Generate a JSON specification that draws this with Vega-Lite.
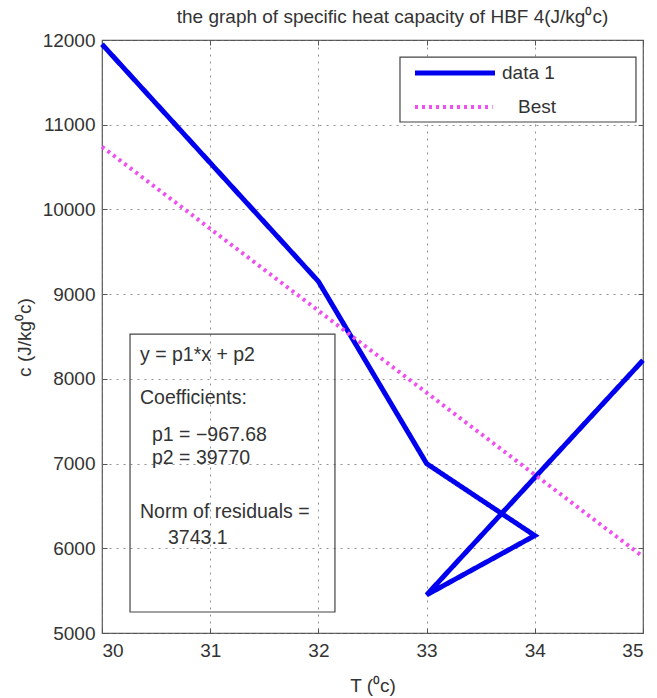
{
  "$schema": "https://vega.github.io/schema/vega-lite/v6.json",
  "width": 541,
  "height": 593,
  "autosize": {"type": "none"},
  "padding": {"left": 102, "top": 40, "right": 14, "bottom": 65},
  "background": "white",
  "config": {
    "font": "Liberation Sans",
    "view": {"stroke": "#555", "strokeWidth": 1.2},
    "axis": {
      "labelFont": "Liberation Sans",
      "titleFont": "Liberation Sans",
      "labelFontSize": 19,
      "titleFontSize": 19,
      "titleFontWeight": "normal",
      "labelColor": "#333",
      "titleColor": "#333",
      "tickColor": "#555",
      "domain": false
    }
  },
  "title": {
    "text": "the graph of specific heat capacity of HBF 4(J/kg⁰c)",
    "font": "Liberation Sans",
    "fontSize": 19,
    "fontWeight": "normal",
    "color": "#333",
    "anchor": "middle",
    "dx": 20,
    "offset": 4
  },
  "resolve": {"axis": {"x": "independent", "y": "independent"}},
  "layer": [
    {
      "data": {
        "values": [
          {"series": "data 1", "T": 30, "c": 11950, "step": 1},
          {"series": "data 1", "T": 32, "c": 9150, "step": 2},
          {"series": "data 1", "T": 33, "c": 7000, "step": 3},
          {"series": "data 1", "T": 34, "c": 6150, "step": 4},
          {"series": "data 1", "T": 33, "c": 5450, "step": 5},
          {"series": "data 1", "T": 35, "c": 8220, "step": 6},
          {"series": "Best", "T": 30, "c": 10740, "step": 1},
          {"series": "Best", "T": 35, "c": 5901, "step": 2}
        ]
      },
      "mark": {"type": "line", "strokeCap": "butt", "strokeJoin": "miter"},
      "encoding": {
        "x": {
          "field": "T", "type": "quantitative",
          "scale": {"domain": [30, 35], "nice": false, "zero": false},
          "axis": {
            "orient": "bottom", "title": "T (⁰c)", "values": [30, 31, 32, 33, 34, 35],
            "format": "d", "grid": true, "gridDash": [2, 5], "gridColor": "#777", "gridOpacity": 0.8,
            "tickSize": -5, "labelPadding": 13, "titleY": 52, "titleBaseline": "middle"
          }
        },
        "y": {
          "field": "c", "type": "quantitative",
          "scale": {"domain": [5000, 12000], "nice": false, "zero": false},
          "axis": {
            "orient": "left", "title": "c (J/kg⁰c)",
            "values": [5000, 6000, 7000, 8000, 9000, 10000, 11000, 12000],
            "format": "d", "grid": true, "gridDash": [2, 5], "gridColor": "#777", "gridOpacity": 0.8,
            "tickSize": -5, "labelPadding": 12, "titleX": -78, "titleY": 297,
            "titleAngle": -90, "titleAlign": "center", "titleBaseline": "middle"
          }
        },
        "color": {
          "field": "series", "type": "nominal",
          "scale": {"domain": ["data 1", "Best"], "range": ["#0000ee", "#f050f0"]},
          "legend": null
        },
        "strokeDash": {
          "field": "series", "type": "nominal",
          "scale": {"domain": ["data 1", "Best"], "range": [[1, 0], [3, 4]]},
          "legend": null
        },
        "strokeWidth": {
          "field": "series", "type": "nominal",
          "scale": {"domain": ["data 1", "Best"], "range": [5, 4]},
          "legend": null
        },
        "order": {"field": "step", "type": "quantitative"}
      }
    },
    {
      "data": {"values": [{"x1": 30.259, "x2": 32.153, "y1": 8529, "y2": 5248}]},
      "mark": {"type": "rect", "fill": "white", "fillOpacity": 0, "stroke": "#444", "strokeWidth": 1.2},
      "encoding": {
        "x": {
          "field": "x1", "type": "quantitative",
          "axis": {"orient": "top", "labels": false, "title": null, "grid": false, "tickSize": -5,
                   "values": [30, 31, 32, 33, 34, 35]}
        },
        "x2": {"field": "x2"},
        "y": {
          "field": "y1", "type": "quantitative",
          "axis": {"orient": "right", "labels": false, "title": null, "grid": false, "tickSize": -5,
                   "values": [5000, 6000, 7000, 8000, 9000, 10000, 11000, 12000]}
        },
        "y2": {"field": "y2"}
      }
    },
    {
      "data": {
        "values": [
          {"label": "y = p1*x + p2", "tx": 30.351, "ty": 8282},
          {"label": "Coefficients:", "tx": 30.351, "ty": 7774},
          {"label": "p1 = −967.68", "tx": 30.462, "ty": 7337},
          {"label": "p2 = 39770", "tx": 30.462, "ty": 7066},
          {"label": "Norm of residuals =", "tx": 30.351, "ty": 6428},
          {"label": "3743.1", "tx": 30.61, "ty": 6121}
        ]
      },
      "mark": {"type": "text", "align": "left", "baseline": "middle", "fontSize": 19.5, "font": "Liberation Sans", "color": "#333"},
      "encoding": {
        "x": {"field": "tx", "type": "quantitative", "axis": null},
        "y": {"field": "ty", "type": "quantitative", "axis": null},
        "text": {"field": "label"}
      }
    },
    {
      "data": {"values": [{"x1": 32.754, "x2": 34.935, "y1": 11799, "y2": 11032}]},
      "mark": {"type": "rect", "fill": "white", "stroke": "#444", "strokeWidth": 1.2},
      "encoding": {
        "x": {"field": "x1", "type": "quantitative", "axis": null},
        "x2": {"field": "x2"},
        "y": {"field": "y1", "type": "quantitative", "axis": null},
        "y2": {"field": "y2"}
      }
    },
    {
      "data": {
        "values": [
          {"series": "data 1", "sx1": 32.893, "sx2": 33.632, "sy": 11610},
          {"series": "Best", "sx1": 32.893, "sx2": 33.61, "sy": 11209}
        ]
      },
      "mark": {"type": "rule", "strokeCap": "butt"},
      "encoding": {
        "x": {"field": "sx1", "type": "quantitative", "axis": null},
        "x2": {"field": "sx2"},
        "y": {"field": "sy", "type": "quantitative", "axis": null},
        "color": {"field": "series", "type": "nominal", "legend": null},
        "strokeDash": {"field": "series", "type": "nominal", "legend": null},
        "strokeWidth": {"field": "series", "type": "nominal", "legend": null}
      }
    },
    {
      "data": {
        "values": [
          {"label": "data 1", "lx": 33.697, "ly": 11610},
          {"label": "Best", "lx": 33.845, "ly": 11209}
        ]
      },
      "mark": {"type": "text", "align": "left", "baseline": "middle", "fontSize": 19, "font": "Liberation Sans", "color": "#333"},
      "encoding": {
        "x": {"field": "lx", "type": "quantitative", "axis": null},
        "y": {"field": "ly", "type": "quantitative", "axis": null},
        "text": {"field": "label"}
      }
    }
  ]
}
